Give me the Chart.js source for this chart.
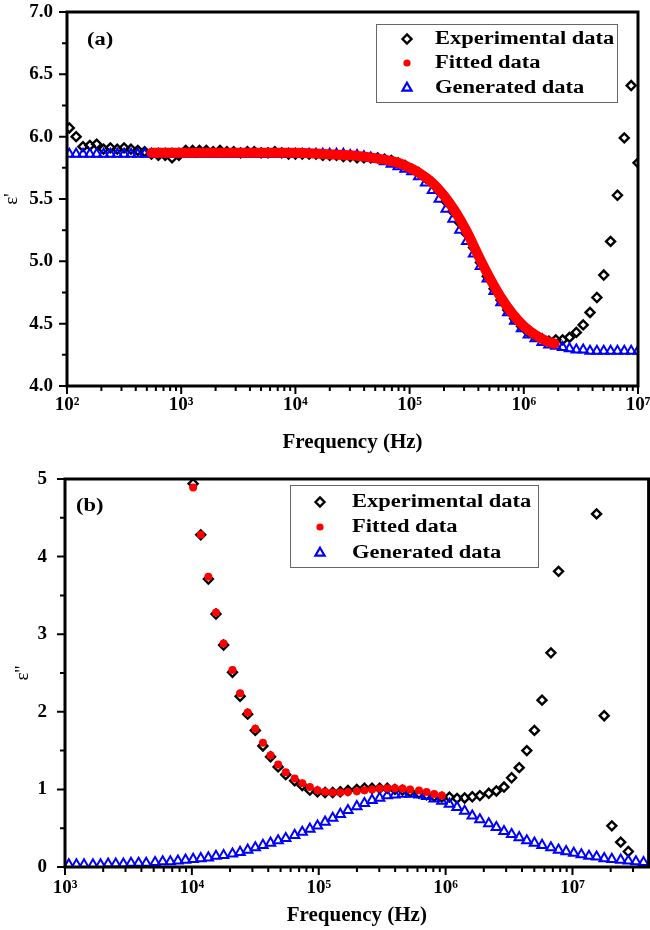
<!DOCTYPE html>
<html>
<head>
<meta charset="utf-8">
<title>Dielectric permittivity vs frequency</title>
<script src="https://cdn.jsdelivr.net/npm/chart.js@4.4.0/dist/chart.umd.min.js"></script>
<style>
  html, body { margin: 0; padding: 0; background: #fff; }
  .panel { position: relative; width: 650px; overflow: hidden; }
  #panelA { height: 460px; }
  #panelB { height: 470px; }
  canvas { display: block; }
</style>
</head>
<body>
<div class="panel" id="panelA"><canvas id="chartReal" width="650" height="460"></canvas></div>
<div class="panel" id="panelB"><canvas id="chartImag" width="656" height="470"></canvas></div>
<script>
(function () {
  // --- (a) real part, log10(f) of every measured point ---
  const logFreqA = [
    2.02, 2.08, 2.14, 2.20, 2.26, 2.32, 2.38, 2.44, 2.50, 2.56,
    2.62, 2.68, 2.74, 2.80, 2.86, 2.92, 2.98, 3.04, 3.10, 3.16,
    3.22, 3.28, 3.34, 3.40, 3.46, 3.52, 3.58, 3.64, 3.70, 3.76,
    3.82, 3.88, 3.94, 4.00, 4.06, 4.12, 4.18, 4.24, 4.30, 4.36,
    4.42, 4.48, 4.54, 4.60, 4.66, 4.72, 4.78, 4.84, 4.90, 4.96,
    5.02, 5.08, 5.14, 5.20, 5.26, 5.32, 5.38, 5.44, 5.50, 5.56,
    5.62, 5.68, 5.74, 5.80, 5.86, 5.92, 5.98, 6.04, 6.10, 6.16,
    6.22, 6.28, 6.34, 6.40, 6.46, 6.52, 6.58, 6.64, 6.70, 6.76,
    6.82, 6.88, 6.94, 7.00,
  ];
  const epsRealExp = [
    6.07, 6.00, 5.92, 5.93, 5.94, 5.90, 5.91, 5.90, 5.91, 5.90,
    5.89, 5.88, 5.86, 5.85, 5.85, 5.83, 5.85, 5.89, 5.89, 5.89,
    5.89, 5.88, 5.89, 5.88, 5.88, 5.87, 5.88, 5.88, 5.87, 5.87,
    5.88, 5.87, 5.86, 5.86, 5.86, 5.86, 5.86, 5.85, 5.85, 5.85,
    5.84, 5.84, 5.83, 5.83, 5.83, 5.83, 5.82, 5.81, 5.79, 5.77,
    5.74, 5.71, 5.67, 5.63, 5.56, 5.48, 5.40, 5.31, 5.22, 5.11,
    4.99, 4.88, 4.78, 4.69, 4.61, 4.54, 4.48, 4.43, 4.40, 4.38,
    4.36, 4.37, 4.37, 4.39, 4.43, 4.49, 4.59, 4.71, 4.89, 5.16,
    5.53, 5.99, 6.41, 5.79,
  ];
  const epsRealGen = [
    5.86, 5.86, 5.86, 5.86, 5.86, 5.86, 5.86, 5.86, 5.86, 5.86,
    5.86, 5.86, 5.86, 5.86, 5.86, 5.86, 5.86, 5.86, 5.86, 5.86,
    5.86, 5.86, 5.86, 5.86, 5.86, 5.86, 5.86, 5.86, 5.86, 5.86,
    5.86, 5.86, 5.86, 5.86, 5.86, 5.86, 5.86, 5.86, 5.86, 5.86,
    5.86, 5.85, 5.85, 5.84, 5.83, 5.82, 5.80, 5.78, 5.76, 5.74,
    5.72, 5.68, 5.63, 5.57, 5.50, 5.42, 5.34, 5.25, 5.16, 5.06,
    4.96, 4.86, 4.76, 4.67, 4.59, 4.52, 4.46, 4.41, 4.38, 4.35,
    4.33, 4.32, 4.31, 4.30, 4.29, 4.29, 4.28, 4.28, 4.28, 4.28,
    4.28, 4.28, 4.28, 4.28,
  ];
  // fitted curve (a), drawn as a continuous band
  const logFreqFitA = [
    2.74, 3.00, 3.50, 4.00, 4.25, 4.50, 4.75, 4.90, 5.00, 5.10, 5.20,
    5.30, 5.40, 5.50, 5.60, 5.70, 5.80, 5.90, 6.00, 6.10, 6.20, 6.27,
  ];
  const epsRealFit = [
    5.87, 5.87, 5.87, 5.87, 5.86, 5.85, 5.82, 5.79, 5.75, 5.70, 5.63,
    5.53, 5.40, 5.24, 5.05, 4.87, 4.71, 4.58, 4.48, 4.41, 4.36, 4.34,
  ];

  // --- (b) imaginary part ---
  const logFreqB = [
    3.03, 3.09, 3.15, 3.22, 3.28, 3.34, 3.40, 3.46, 3.52, 3.58,
    3.64, 3.71, 3.77, 3.83, 3.89, 3.95, 4.01, 4.07, 4.13, 4.19,
    4.25, 4.32, 4.38, 4.44, 4.50, 4.56, 4.62, 4.68, 4.74, 4.81,
    4.87, 4.93, 4.99, 5.05, 5.11, 5.17, 5.23, 5.30, 5.36, 5.42,
    5.48, 5.54, 5.60, 5.66, 5.72, 5.79, 5.85, 5.91, 5.97, 6.03,
    6.09, 6.15, 6.21, 6.27, 6.34, 6.40, 6.46, 6.52, 6.58, 6.64,
    6.70, 6.76, 6.83, 6.89, 6.95, 7.01, 7.07, 7.13, 7.19, 7.25,
    7.31, 7.38, 7.44, 7.50, 7.56,
  ];
  const epsImagExp = [
    null, null, null, null, null, null, null, null, null, null,
    null, null, null, null, null, null, 4.94, 4.28, 3.71, 3.26,
    2.86, 2.51, 2.20, 1.97, 1.76, 1.56, 1.42, 1.29, 1.19, 1.11,
    1.05, 0.99, 0.97, 0.96, 0.96, 0.97, 0.985, 1.00, 1.015, 1.015,
    1.015, 1.015, 1.00, 0.99, 0.97, 0.95, 0.93, 0.91, 0.90, 0.90,
    0.885, 0.89, 0.905, 0.92, 0.95, 0.98, 1.03, 1.15, 1.28, 1.50,
    1.76, 2.15, 2.76, 3.81, null, null, null, null, 4.55, 1.95,
    0.53, 0.32, 0.20, null, null,
  ];
  const epsImagFit = [
    null, null, null, null, null, null, null, null, null, null,
    null, null, null, null, null, null, 4.89, 4.28, 3.74, 3.28,
    2.88, 2.54, 2.24, 1.99, 1.78, 1.60, 1.44, 1.32, 1.22, 1.14,
    1.08, 1.03, 0.99, 0.97, 0.96, 0.96, 0.965, 0.975, 0.99, 1.00,
    1.01, 1.015, 1.015, 1.01, 1.00, 0.985, 0.965, 0.94, 0.92, null,
    null, null, null, null, null, null, null, null, null, null,
    null, null, null, null, null, null, null, null, null, null,
    null, null, null, null, null,
  ];
  const epsImagGen = [
    0.03, 0.03, 0.03, 0.03, 0.03, 0.04, 0.04, 0.04, 0.05, 0.05,
    0.05, 0.06, 0.07, 0.07, 0.08, 0.09, 0.10, 0.11, 0.12, 0.14,
    0.15, 0.17, 0.19, 0.22, 0.25, 0.28, 0.31, 0.34, 0.37, 0.41,
    0.45, 0.49, 0.53, 0.58, 0.63, 0.68, 0.73, 0.78, 0.82, 0.86,
    0.89, 0.92, 0.93, 0.94, 0.94, 0.93, 0.91, 0.88, 0.85, 0.81,
    0.77, 0.72, 0.66, 0.61, 0.56, 0.51, 0.46, 0.42, 0.38, 0.34,
    0.31, 0.28, 0.25, 0.22, 0.20, 0.18, 0.16, 0.14, 0.13, 0.11,
    0.10, 0.09, 0.08, 0.07, 0.06,
  ];

  // axis ticks
  const decadesA = [2, 3, 4, 5, 6, 7];
  const decadesB = [3, 4, 5, 6, 7];
  const minorMult = [2, 3, 4, 5, 6, 7, 8, 9];
  const yMajorA = [4.0, 4.5, 5.0, 5.5, 6.0, 6.5, 7.0];
  const yMinorA = [4.25, 4.75, 5.25, 5.75, 6.25, 6.75];
  const yMajorB = [0, 1, 2, 3, 4, 5];
  const yMinorB = [0.5, 1.5, 2.5, 3.5, 4.5];
  const xMaxB = 3.98e7;

  const SERIF = "'Liberation Serif', 'Times New Roman', serif";
  const SUP = { 2: '\u00b2', 3: '\u00b3', 4: '\u2074', 5: '\u2075', 6: '\u2076', 7: '\u2077' };

  function toPoints(logF, vals) {
    const pts = [];
    logF.forEach((lf, i) => {
      if (vals[i] !== null) pts.push({ x: Math.pow(10, lf), y: vals[i] });
    });
    return pts;
  }

  // legend markers (the fit is a band on the plot but a dot in the key)
  const legendMarkers = [
    { style: 'rectRot', r: 4.5, stroke: '#000', fill: 'rgba(0,0,0,0)', lw: 2.4 },
    { style: 'circle', r: 3.6, stroke: '#f00', fill: '#f00', lw: 0 },
    { style: 'triangle', r: 5.3, stroke: '#00f', fill: 'rgba(0,0,0,0)', lw: 2.2 },
  ];

  function wideText(ctx, text, x, y, size) {
    ctx.save();
    ctx.translate(x, y);
    ctx.scale(1.25, 1);
    ctx.font = `bold ${size}px ${SERIF}`;
    ctx.fillStyle = '#000';
    ctx.textBaseline = 'middle';
    ctx.fillText(text, 0, 0);
    ctx.restore();
  }

  // box frame, outward ticks, boxed key and panel letter
  const framePlugin = {
    id: 'frame',
    afterDatasetsDraw(chart, args, opts) {
      const { ctx, chartArea: a } = chart;
      const xs = chart.scales.x;
      const ys = chart.scales.y;
      ctx.save();
      ctx.strokeStyle = '#000';
      ctx.lineWidth = 2;
      ctx.beginPath();
      opts.decades.forEach((d) => {
        const major = Math.pow(10, d);
        if (major >= xs.min && major <= xs.max) {
          const p = xs.getPixelForValue(major);
          ctx.moveTo(p, a.bottom);
          ctx.lineTo(p, a.bottom + 8);
        }
        minorMult.forEach((m) => {
          const v = m * major;
          if (v > xs.min && v < xs.max) {
            const p = xs.getPixelForValue(v);
            ctx.moveTo(p, a.bottom);
            ctx.lineTo(p, a.bottom + 5);
          }
        });
      });
      opts.yMajor.forEach((v) => {
        const p = ys.getPixelForValue(v);
        ctx.moveTo(a.left, p);
        ctx.lineTo(a.left - 8, p);
      });
      opts.yMinor.forEach((v) => {
        const p = ys.getPixelForValue(v);
        ctx.moveTo(a.left, p);
        ctx.lineTo(a.left - 5, p);
      });
      ctx.stroke();
      ctx.lineWidth = 3;
      ctx.strokeRect(a.left, a.top, a.right - a.left, a.bottom - a.top);

      const lg = opts.legend;
      ctx.fillStyle = '#fff';
      ctx.fillRect(lg.left, lg.top, lg.right - lg.left, lg.bottom - lg.top);
      ctx.lineWidth = 1;
      ctx.strokeStyle = '#666';
      ctx.strokeRect(lg.left + 0.5, lg.top + 0.5, lg.right - lg.left, lg.bottom - lg.top);
      chart.data.datasets.forEach((ds, i) => {
        const mk = legendMarkers[i];
        const y = lg.rows[i];
        ctx.strokeStyle = mk.stroke;
        ctx.fillStyle = mk.fill;
        ctx.lineWidth = mk.lw;
        Chart.helpers.drawPoint(ctx, { pointStyle: mk.style, radius: mk.r, rotation: 0, borderWidth: mk.lw }, lg.markerX, y);
        wideText(ctx, ds.label, lg.textX, y, 18);
      });
      wideText(ctx, opts.panel.text, opts.panel.x, opts.panel.y, 18);
      ctx.restore();
    },
  };

  function scatterSets(expPts, fitPts, genPts, fitAsBand) {
    const fit = fitAsBand
      ? { label: 'Fitted data', data: fitPts, showLine: true, borderColor: '#ff0000', borderWidth: 10,
          borderCapStyle: 'round', cubicInterpolationMode: 'monotone', pointRadius: 0, order: 1 }
      : { label: 'Fitted data', data: fitPts, pointStyle: 'circle', pointRadius: 4,
          pointBackgroundColor: '#ff0000', pointBorderColor: '#ff0000', pointBorderWidth: 0, order: 1 };
    return [
      { label: 'Experimental data', data: expPts, pointStyle: 'rectRot', pointRadius: 4.5,
        pointBorderColor: '#000', pointBackgroundColor: 'rgba(0,0,0,0)', pointBorderWidth: 2.4, order: 3 },
      fit,
      { label: 'Generated data', data: genPts, pointStyle: 'triangle', pointRadius: 5.4,
        pointBorderColor: '#0000ff', pointBackgroundColor: 'rgba(0,0,0,0)', pointBorderWidth: 2, order: 2 },
    ];
  }

  function buildOptions(o) {
    return {
      responsive: false,
      animation: false,
      devicePixelRatio: 1,
      events: [],
      layout: { padding: o.padding },
      plugins: {
        legend: { display: false },
        tooltip: { enabled: false },
        frame: o.frame,
      },
      scales: {
        x: {
          type: 'logarithmic',
          min: o.xMin,
          max: o.xMax,
          afterBuildTicks: (s) => { s.ticks = o.frame.decades.map((d) => ({ value: Math.pow(10, d) })); },
          afterFit: (s) => { s.height = o.xHeight; s.paddingLeft = 0; s.paddingRight = 0; },
          grid: { display: false, drawTicks: false },
          border: { display: false },
          ticks: {
            autoSkip: false,
            maxRotation: 0,
            padding: o.xTickPad,
            color: '#000',
            font: { family: SERIF, size: 19, weight: 'bold' },
            callback: (v) => '10' + SUP[Math.round(Math.log10(v))],
          },
          title: {
            display: true,
            text: 'Frequency (Hz)',
            color: '#000',
            font: { family: SERIF, size: 21, weight: 'bold' },
            padding: { top: 0, bottom: o.xTitlePad },
          },
        },
        y: {
          min: o.yMin,
          max: o.yMax,
          afterFit: (s) => { s.width = o.yWidth; s.paddingTop = 0; s.paddingBottom = 0; },
          grid: { display: false, drawTicks: false },
          border: { display: false },
          ticks: {
            stepSize: o.yStep,
            padding: o.yTickPad,
            color: '#000',
            font: { family: SERIF, size: 19, weight: 'bold' },
            callback: o.yFormat,
          },
          title: {
            display: true,
            text: o.yTitle,
            color: '#000',
            font: { family: SERIF, size: 19 },
            padding: { top: o.yTitlePad, bottom: 0 },
          },
        },
      },
    };
  }

  new Chart(document.getElementById('chartReal'), {
    type: 'scatter',
    data: {
      datasets: scatterSets(
        toPoints(logFreqA, epsRealExp),
        toPoints(logFreqFitA, epsRealFit),
        toPoints(logFreqA, epsRealGen),
        true
      ),
    },
    options: buildOptions({
      padding: { top: 12, right: 12, bottom: 0, left: 0 },
      xMin: 1e2, xMax: 1e7, xHeight: 74, xTickPad: 8, xTitlePad: 5,
      yMin: 4, yMax: 7, yStep: 0.5, yWidth: 67, yTickPad: 14, yTitlePad: 1,
      yFormat: (v) => v.toFixed(1),
      yTitle: "\u03b5'",
      frame: {
        decades: decadesA, yMajor: yMajorA, yMinor: yMinorA,
        legend: { left: 376, top: 24, right: 617, bottom: 102, rows: [39, 63, 88], markerX: 407, textX: 435 },
        panel: { text: '(a)', x: 87, y: 40 },
      },
    }),
    plugins: [framePlugin],
  });

  new Chart(document.getElementById('chartImag'), {
    type: 'scatter',
    data: {
      datasets: scatterSets(
        toPoints(logFreqB, epsImagExp),
        toPoints(logFreqB, epsImagFit),
        toPoints(logFreqB, epsImagGen),
        false
      ),
    },
    options: buildOptions({
      padding: { top: 19, right: 4, bottom: 0, left: 0 },
      xMin: 1e3, xMax: xMaxB, xHeight: 63, xTickPad: 10, xTitlePad: 2,
      yMin: 0, yMax: 5, yStep: 1, yWidth: 65, yTickPad: 18, yTitlePad: 12,
      yFormat: (v) => String(v),
      yTitle: "\u03b5''",
      frame: {
        decades: decadesB, yMajor: yMajorB, yMinor: yMinorB,
        legend: { left: 290, top: 25, right: 538, bottom: 107, rows: [42, 67, 93], markerX: 320, textX: 352 },
        panel: { text: '(b)', x: 76, y: 46 },
      },
    }),
    plugins: [framePlugin],
  });
})();
</script>
</body>
</html>
